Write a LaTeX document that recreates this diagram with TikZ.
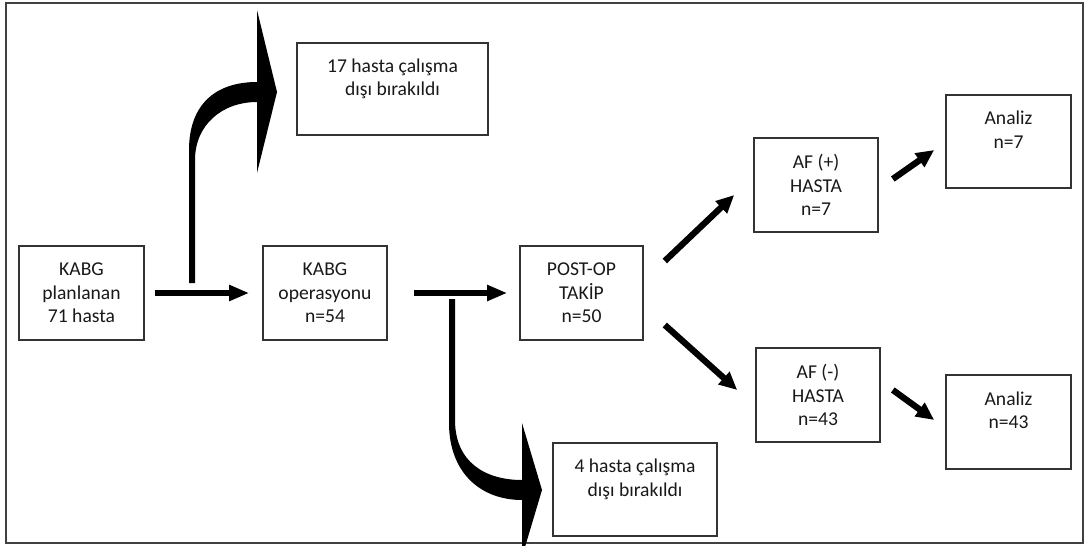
\documentclass[tikz,border=0pt]{standalone}
\usepackage{fontspec}
\setmainfont{Carlito}
\usetikzlibrary{arrows.meta,calc}
\begin{document}
\begin{tikzpicture}[x=1pt,y=-1pt,
  box/.style={draw=black!80, line width=1.6pt, rectangle, align=center,
    text=black!90, inner sep=0pt, font=\fontsize{19.6}{23.7}\selectfont},
  arr/.style={line width=5.8pt, black, -{Triangle[length=20pt,width=15pt]}},
  darr/.style={line width=6.3pt, black, -{Triangle[length=18pt,width=16pt]}},
  bigarrow/.style={fill=black, draw=none}]
\useasboundingbox (0,0) rectangle (1087,546);
\fill[white] (0,0) rectangle (1087,546);
% frame
\draw[black!75, line width=1.6pt] (6,3) rectangle (1083,543);
% boxes
\node[box, minimum width=125pt, minimum height=94pt] (plan) at (81.5,293) {KABG\\planlanan\\71 hasta};
\node[box, minimum width=124pt, minimum height=94pt] (oper) at (325,293) {KABG\\operasyonu\\n=54};
\node[box, minimum width=123pt, minimum height=94pt] (post) at (581.5,293) {POST-OP\\TAKİP\\n=50};
\node[box, minimum width=191pt, minimum height=92pt] (exa) at (392.5,89) {17 hasta çalışma\\dışı bırakıldı\\\mbox{}};
\node[box, minimum width=164pt, minimum height=93pt] (exb) at (635,489.5) {4 hasta çalışma\\dışı bırakıldı\\\mbox{}};
\node[box, minimum width=124pt, minimum height=94pt] (afp) at (816,185) {AF (+)\\HASTA\\n=7};
\node[box, minimum width=124pt, minimum height=94pt] (afn) at (818,395) {AF (-)\\HASTA\\n=43};
\node[box, minimum width=125pt, minimum height=93pt] (anp) at (1008.5,141.5) {Analiz\\n=7\\\mbox{}};
\node[box, minimum width=125pt, minimum height=94pt] (ann) at (1008.5,422) {Analiz\\n=43\\\mbox{}};
% straight arrows
\draw[arr] ($(plan.east)+(10,0)$) -- ($(oper.west)+(-13,0)$);
\draw[arr] ($(oper.east)+(26,0)$) -- ($(post.west)+(-12,0)$);
\draw[darr] ($(post.east)+(21,-32)$) -- ($(afp.west)+(-19,10)$);
\draw[darr] ($(post.east)+(21,32)$) -- ($(afn.west)+(-18,-5)$);
\draw[darr] ($(afp.east)+(14,-6)$) -- ($(anp.west)+(-11,8.5)$);
\draw[darr] ($(afn.east)+(12,-5)$) -- ($(ann.west)+(-11,-2)$);
% curved exclusion arrows
\coordinate (brA) at (192,283);
\coordinate (brB) at (452,299);
\fill[bigarrow] ($(brA)+(-3,0)$) -- (189,150) .. controls (189,105) and (215,82) .. (257,82)
  -- (257,10) -- (277,92) -- (257,173) -- (257,102)
  .. controls (222,102) and (195,125) .. (195,160) -- ($(brA)+(3,0)$) -- cycle;
\fill[bigarrow] ($(brB)+(-3,0)$) -- (449,423) .. controls (449,472) and (480,500) .. (522,500)
  -- (522,546) -- (525.3,546) -- (542,490) -- (522,423) -- (522,480)
  .. controls (485,480) and (455,462) .. (455,420) -- ($(brB)+(3,0)$) -- cycle;
\end{tikzpicture}
\end{document}
